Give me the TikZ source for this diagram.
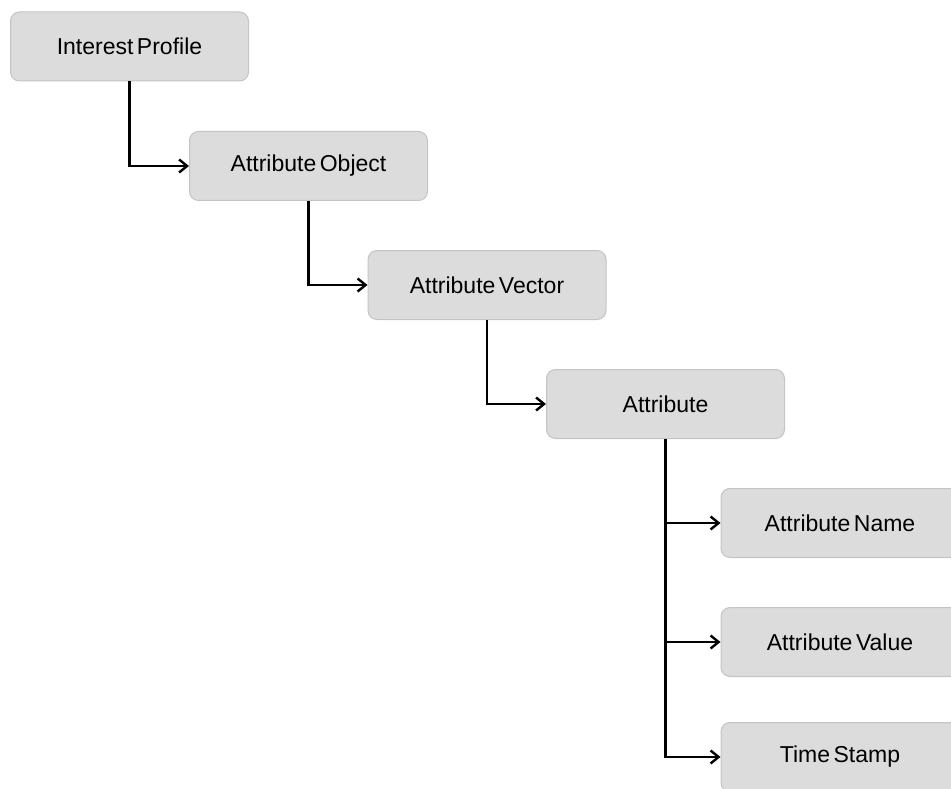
\documentclass[tikz,border=0pt]{standalone}
\usepackage{fontspec}
\setmainfont{Liberation Sans}[WordSpace=0.55]
\usetikzlibrary{arrows.meta}
\definecolor{boxfill}{HTML}{DCDCDC}
\definecolor{boxline}{HTML}{C4C4C4}
\tikzset{
  item/.style={draw=boxline, line width=1pt, fill=boxfill, rounded corners=9pt,
    minimum width=238pt, minimum height=69pt, inner sep=0pt,
    font=\fontsize{23}{26}\selectfont},
  link/.style={line width=2.4pt, -{Straight Barb[length=8pt,width=13pt,line width=2.4pt]}}
}
\begin{document}
\begin{tikzpicture}[x=1pt, y=-1pt]
  \useasboundingbox (0,0) rectangle (951,789);
  \clip (0,0) rectangle (951,789);
  \node[item] (ip) at (129.5,46.5) {Interest Profile};
  \node[item] (ao) at (308.5,166) {Attribute Object};
  \node[item] (av) at (487,285) {Attribute Vector};
  \node[item] (at) at (665.5,404) {Attribute};
  \node[item] (an) at (840,523) {Attribute Name};
  \node[item] (va) at (840,642) {Attribute Value};
  \node[item] (ts) at (840,757) {Time Stamp};
  \draw[link] (ip.south) |- (ao.west);
  \draw[link] (ao.south) |- (av.west);
  \draw[link] (av.south) |- (at.west);
  \draw[link] (at.south) |- (an.west);
  \draw[link] (at.south) |- (va.west);
  \draw[link] (at.south) |- (ts.west);
\end{tikzpicture}
\end{document}
